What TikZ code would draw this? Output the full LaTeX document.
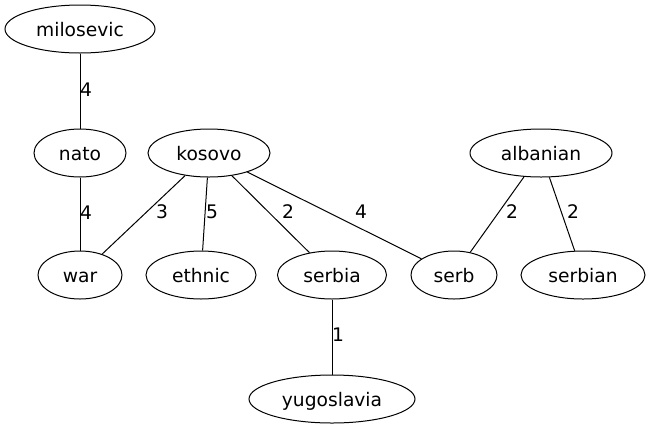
\documentclass[tikz,border=0pt]{standalone}
\usepackage{fontspec}
\setmainfont{DejaVu Sans}
\usetikzlibrary{shapes.geometric}
\tikzset{
  vtx/.style={draw, ellipse, line width=1pt, inner sep=0pt, minimum height=48pt,
    font=\fontsize{18.67pt}{22pt}\selectfont, text height=15pt, text depth=0pt},
  wlab/.style={inner sep=0pt, font=\fontsize{18.67pt}{22pt}\selectfont, text height=15pt, text depth=0pt},
  edge/.style={line width=1pt}
}
\begin{document}
\begin{tikzpicture}[x=1pt, y=-1pt]
\useasboundingbox (0,0) rectangle (652,429);
\node[vtx, minimum width=150pt] (milosevic) at (80,29) {milosevic};
\node[vtx, minimum width=92pt] (nato) at (80,153) {nato};
\node[vtx, minimum width=122pt] (kosovo) at (209,153) {kosovo};
\node[vtx, minimum width=142pt] (albanian) at (541,153) {albanian};
\node[vtx, minimum width=84pt] (war) at (80,275) {war};
\node[vtx, minimum width=110pt] (ethnic) at (201,275) {ethnic};
\node[vtx, minimum width=109pt] (serbia) at (332,275) {serbia};
\node[vtx, minimum width=86pt] (serb) at (454,275) {serb};
\node[vtx, minimum width=124pt] (serbian) at (583,275) {serbian};
\node[vtx, minimum width=166pt] (yugoslavia) at (332,399) {yugoslavia};

\draw[edge] (milosevic) -- (nato);
\draw[edge] (nato) -- (war);
\draw[edge] (kosovo) -- (war);
\draw[edge] (kosovo) -- (ethnic);
\draw[edge] (kosovo) -- (serbia);
\draw[edge] (kosovo) -- (serb);
\draw[edge] (albanian) -- (serb);
\draw[edge] (albanian) -- (serbian);
\draw[edge] (serbia) -- (yugoslavia);

\node[wlab] (l1) at (86,89) {4};
\node[wlab] (l2) at (86,212) {4};
\node[wlab] (l3) at (162,211) {3};
\node[wlab] (l4) at (212,211) {5};
\node[wlab] (l5) at (288,211) {2};
\node[wlab] (l6) at (361,211) {4};
\node[wlab] (l7) at (512,211) {2};
\node[wlab] (l8) at (573,211) {2};
\node[wlab] (l9) at (338,334) {1};
\end{tikzpicture}
\end{document}
